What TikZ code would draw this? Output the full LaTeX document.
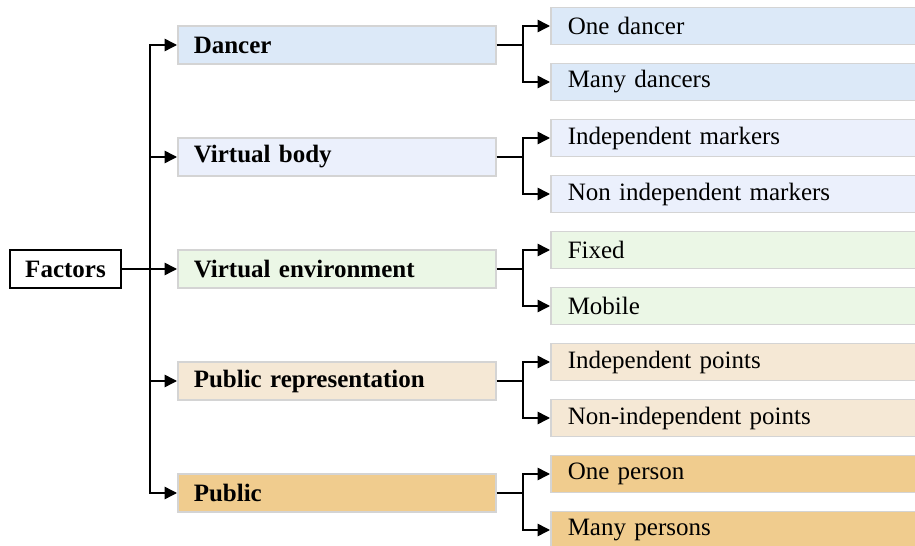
\documentclass[tikz,border=0pt]{standalone}
\usepackage{fontspec}
\setmainfont{Liberation Serif}
\usepackage{xcolor}
\usetikzlibrary{arrows.meta,calc}
\definecolor{dancerc}{HTML}{DCE9F8}
\definecolor{bodyc}{HTML}{EBF0FC}
\definecolor{envc}{HTML}{EBF7E6}
\definecolor{repc}{HTML}{F5E8D5}
\definecolor{pubc}{HTML}{F0CC8E}
\definecolor{edgec}{HTML}{D4D4D4}

\begin{document}
\begin{tikzpicture}[x=0.4pt, y=-0.4pt, font=\fontsize{10}{12}\selectfont,
  >={Triangle[length=5pt,width=5pt]}, line width=0.6pt,
  root/.style={draw, minimum width=44.4pt, minimum height=15.2pt, inner sep=0pt, font=\bfseries},
  cat/.style={draw=edgec, anchor=west, minimum height=15.2pt, text width=114.4pt,
    inner xsep=6.4pt, inner ysep=0pt, align=left, font=\bfseries},
  leaf/.style={draw=edgec, anchor=west, minimum height=14.8pt, text width=134pt,
    inner xsep=6.8pt, inner ysep=0pt, align=left}]
\useasboundingbox (0,0) rectangle (915,546);
\node[root] (fac) at (65.5,269) {Factors};
\coordinate (tr) at (150,269);
\draw (fac) -- (tr);
\foreach \i/\y/\col/\lab/\la/\lb in {1/45/dancerc/Dancer/One dancer/Many dancers,
  2/157/bodyc/Virtual body/Independent markers/Non independent markers,
  3/269/envc/Virtual environment/Fixed/Mobile,
  4/381/repc/Public representation/Independent points/Non-independent points,
  5/493/pubc/Public/One person/Many persons}{
  \node[cat, fill=\col] (c\i) at (177,\y) {\lab};
  \node[leaf, fill=\col] (l\i a) at (550,{\y-19}) {\la};
  \node[leaf, fill=\col] (l\i b) at (550,{\y+37}) {\lb};
  \coordinate (b\i) at (523,\y);
  \draw[->] (tr) |- (c\i);
  \draw (c\i) -- (b\i);
  \draw[->] (b\i) |- (l\i a);
  \draw[->] (b\i) |- (l\i b);
}
\end{tikzpicture}
\end{document}
